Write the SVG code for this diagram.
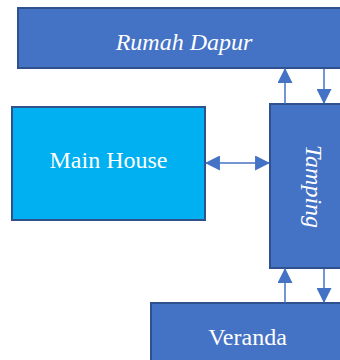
<svg xmlns="http://www.w3.org/2000/svg" width="340" height="360" viewBox="0 0 340 360">
<style>
.box{fill:#4472C4;stroke:#2F528F;stroke-width:2}
.lbl{font-size:24px;fill:#FFFFFF;text-anchor:middle}
.it{font-style:italic}
.con{stroke:#4472C4;stroke-width:1.5;fill:none}
</style>
<defs>
<marker id="ah" markerWidth="15" markerHeight="15" refX="13" refY="7" orient="auto-start-reverse" markerUnits="userSpaceOnUse" viewBox="0 0 14 14">
<path d="M0,0 L14,7 L0,14 Z" fill="#4472C4"/>
</marker>
</defs>
<g id="rumah-dapur">
<rect class="box" x="18" y="8" width="332" height="60"/>
<text class="lbl it" font-family="Liberation Serif, Times New Roman, serif" x="184" y="50">Rumah Dapur</text>
</g>
<g id="main-house">
<rect class="box" x="12" y="107" width="193" height="113" style="fill:#00B0F0"/>
<text class="lbl" font-family="Liberation Serif, Times New Roman, serif" x="108.5" y="168">Main House</text>
</g>
<g id="tamping">
<rect class="box" x="270" y="104" width="86" height="164"/>
<text class="lbl it" font-family="Liberation Serif, Times New Roman, serif" transform="translate(305.5,186.5) rotate(90)" x="0" y="0">Tamping</text>
</g>
<g id="veranda">
<rect class="box" x="151" y="303" width="194" height="62"/>
<text class="lbl" font-family="Liberation Serif, Times New Roman, serif" x="247.5" y="345">Veranda</text>
</g>
<g id="connectors">
<line class="con" x1="285" y1="104" x2="285" y2="69" marker-end="url(#ah)"/>
<line class="con" x1="324" y1="69" x2="324" y2="103" marker-end="url(#ah)"/>
<line class="con" x1="206" y1="163" x2="269" y2="163" marker-start="url(#ah)" marker-end="url(#ah)"/>
<line class="con" x1="285" y1="303" x2="285" y2="269" marker-end="url(#ah)"/>
<line class="con" x1="324" y1="269" x2="324" y2="302" marker-end="url(#ah)"/>
</g>
</svg>
